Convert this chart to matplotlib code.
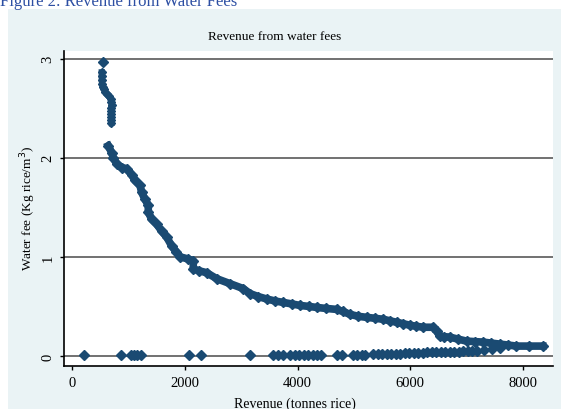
import matplotlib
matplotlib.use("Agg")
import matplotlib.pyplot as plt
from matplotlib.patches import Rectangle

# ---- data ----
steep_x = [527, 527, 530, 532, 545, 565, 590, 620, 650, 690, 700, 705, 690, 700, 690, 700, 690, 700]
steep_y = [2.86, 2.82, 2.78, 2.74, 2.71, 2.69, 2.66, 2.64, 2.62, 2.59, 2.56, 2.53, 2.50, 2.47, 2.44, 2.41, 2.38, 2.35]

curve_x = [644, 703, 733, 792, 880, 969, 1058, 1117, 1206, 1235, 1294, 1353, 1353, 1413, 1501,
           1590, 1679, 1768, 1850, 1915, 2050, 2151, 2151, 2250, 2388, 2566, 2801, 3037, 3156,
           3300, 3452, 3600, 3747, 3900, 4043, 4200, 4338, 4500, 4693, 4800, 4929, 5080, 5225,
           5380, 5520, 5640, 5757, 5880, 5993, 6110, 6229, 6407, 6470, 6525, 6602, 6702, 6850,
           6998, 7150, 7293, 7440, 7589, 7740, 7884, 8100, 8350]
curve_y = [2.12, 2.05, 2.00, 1.94, 1.90, 1.89, 1.83, 1.77, 1.72, 1.65, 1.58, 1.52, 1.45, 1.38, 1.33,
           1.26, 1.20, 1.11, 1.05, 1.00, 0.98, 0.96, 0.88, 0.86, 0.84, 0.78, 0.73, 0.68, 0.63,
           0.60, 0.575, 0.555, 0.54, 0.525, 0.51, 0.50, 0.49, 0.48, 0.47, 0.45, 0.42, 0.40, 0.39,
           0.38, 0.37, 0.355, 0.34, 0.325, 0.31, 0.30, 0.29, 0.29, 0.25, 0.20, 0.195, 0.19, 0.17,
           0.15, 0.145, 0.14, 0.13, 0.12, 0.11, 0.10, 0.10, 0.10]

pts_x = [544,
         212, 866, 1040, 1100, 1160, 1220, 2070, 2280, 3160, 3570, 3660, 3750,
         3870, 3950, 4030, 4110, 4190, 4270, 4350, 4420, 4700, 4790, 4980, 5060, 5140, 5200,
         5340, 5420, 5500, 5580, 5660, 5740, 5820, 5900, 5980, 6060, 6140, 6220, 6300,
         6380, 6460, 6540, 6620, 6700, 6780, 6860, 6940, 7020, 7100, 7180, 7300, 7450, 7600]
pts_y = [2.96,
         0.01, 0.01, 0.01, 0.01, 0.01, 0.01, 0.01, 0.01, 0.01, 0.01, 0.01, 0.01,
         0.01, 0.01, 0.01, 0.01, 0.01, 0.01, 0.01, 0.01, 0.01, 0.01, 0.01, 0.01, 0.01, 0.01,
         0.02, 0.02, 0.02, 0.02, 0.025, 0.025, 0.025, 0.03, 0.03, 0.03, 0.03, 0.035, 0.04,
         0.04, 0.045, 0.045, 0.045, 0.045, 0.045, 0.045, 0.05, 0.05, 0.05, 0.055, 0.06, 0.07, 0.08]

x_ticks = [0, 2000, 4000, 6000, 8000]
y_ticks = [0, 1, 2, 3]

W, H = 561, 410
fig = plt.figure(figsize=(W / 100, H / 100), dpi=100)
fig.patch.set_facecolor("white")
plt.rcParams["font.family"] = ["Liberation Serif", "DejaVu Serif"]

panel = "#eaf3f5"
mark = "#1a4a72"
fig.patches.append(Rectangle((8 / W, 0), 1 - 8 / W, (H - 10) / H, transform=fig.transFigure,
                             facecolor=panel, edgecolor="none", zorder=-10))

fig.text(0, 1 - 6 / H, "Figure 2: Revenue from Water Fees", color="#2d4fa3", fontsize=12,
         ha="left", va="baseline")
fig.text(275 / W, 1 - 37 / H, "Revenue from water fees", fontsize=9.5, ha="center", va="center")

left, right, top, bottom = 64, 553, 52, 367
ax = fig.add_axes([left / W, 1 - bottom / H, (right - left) / W, (bottom - top) / H])
ax.set_zorder(2)
ax.set_facecolor("white")

x0px, x8px = 72, 523
y0px, y3px = 357, 59.5
ppx = (x8px - x0px) / 8000
ppy = (y0px - y3px) / 3
ax.set_xlim(-(x0px - left) / ppx, (right - x0px) / ppx)
ax.set_ylim(-(bottom - y0px) / ppy, 3 + (y3px - top) / ppy)

for g in y_ticks:
    ax.axhline(g, color="#666666", lw=1.3, zorder=1)

ax.plot(steep_x, steep_y, "-D", color=mark, lw=4.5, ms=4.5, zorder=3)
ax.plot(curve_x, curve_y, "-D", color=mark, lw=5.5, ms=5, zorder=3)
ax.plot(pts_x, pts_y, "D", color=mark, ms=5, ls="none", zorder=3)

ax.set_xticks(x_ticks)
ax.set_yticks(y_ticks)
ax.set_xticklabels([str(v) for v in x_ticks], fontsize=10.5)
ax.set_yticklabels([str(v) for v in y_ticks], fontsize=10.5, rotation=90, va="center")
ax.tick_params(axis="both", direction="out", length=3, width=1, color="black", pad=4)

for s in ["top", "right"]:
    ax.spines[s].set_visible(False)
for s in ["left", "bottom"]:
    ax.spines[s].set_linewidth(1.2)
    ax.spines[s].set_color("black")

fig.text(28 / W, 1 - 208 / H, "Water fee (Kg rice/m$^3$)", fontsize=9.5, rotation=90,
         ha="center", va="center")
fig.text(295 / W, 1 - 404 / H, "Revenue (tonnes rice)", fontsize=10, ha="center", va="center")

fig.savefig("out.png", dpi=100, facecolor=fig.get_facecolor())
